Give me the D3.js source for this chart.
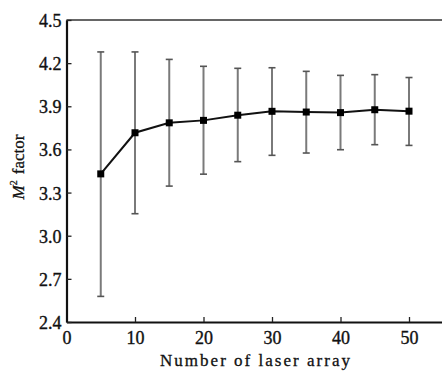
<!DOCTYPE html>
<html>
<head>
<meta charset="utf-8">
<script src="https://cdn.jsdelivr.net/npm/d3@7"></script>
<style>
  body { margin: 0; background: #fff; }
  svg text { font-family: "Liberation Serif", "DejaVu Serif", "Times New Roman", Times, serif; }
</style>
</head>
<body>
<div id="chart"></div>
<script>
(function(d3) {
  'use strict';

  var width = 442;
  var height = 374;

  // data
  var arraySizes = [5, 10, 15, 20, 25, 30, 35, 40, 45, 50];
  var m2Mean  = [3.43, 3.716, 3.785, 3.802, 3.838, 3.865, 3.860, 3.856, 3.876, 3.866];
  var m2Upper = [4.278, 4.278, 4.226, 4.178, 4.164, 4.168, 4.143, 4.115, 4.12, 4.10];
  var m2Lower = [2.578, 3.153, 3.345, 3.428, 3.515, 3.559, 3.575, 3.598, 3.633, 3.628];
  var xTicks = [0, 10, 20, 30, 40, 50];
  var yTicks = [2.4, 2.7, 3.0, 3.3, 3.6, 3.9, 4.2, 4.5];

  var serif = '"Liberation Serif", "DejaVu Serif", "Times New Roman", Times, serif';
  var left = 66.5, top = 20, bottom = 322;

  var x = d3.scaleLinear().domain([0, 55]).range([left, left + 55 * 6.85]);
  var y = d3.scaleLinear().domain([2.4, 4.5]).range([bottom, top]);

  var svg = d3.select('#chart')
    .append('svg')
    .attr('width', width)
    .attr('height', height)
    .attr('font-family', serif);

  var points = arraySizes.map(function(n, i) {
    return { n: n, mean: m2Mean[i], hi: m2Upper[i], lo: m2Lower[i] };
  });

  // top frame line
  svg.append('line')
    .attr('x1', left).attr('x2', x(55))
    .attr('y1', y(4.5)).attr('y2', y(4.5))
    .attr('stroke', '#333').attr('stroke-width', 1.6);

  // error bars
  var bars = svg.append('g').attr('class', 'errorbars');
  bars.selectAll('line.stem')
    .data(points).enter()
    .append('line').attr('class', 'stem')
    .attr('x1', function(d){ return x(d.n); })
    .attr('x2', function(d){ return x(d.n); })
    .attr('y1', function(d){ return y(d.hi); })
    .attr('y2', function(d){ return y(d.lo); })
    .attr('stroke', '#7a7a7a').attr('stroke-width', 2);
  ['hi', 'lo'].forEach(function(k) {
    bars.selectAll('line.cap-' + k)
      .data(points).enter()
      .append('line').attr('class', 'cap-' + k)
      .attr('x1', function(d){ return x(d.n) - 3.5; })
      .attr('x2', function(d){ return x(d.n) + 3.5; })
      .attr('y1', function(d){ return y(d[k]); })
      .attr('y2', function(d){ return y(d[k]); })
      .attr('stroke', '#555').attr('stroke-width', 1.6);
  });

  // mean line + markers
  var line = d3.line()
    .x(function(d){ return x(d.n); })
    .y(function(d){ return y(d.mean); });

  svg.append('path')
    .datum(points)
    .attr('d', line)
    .attr('fill', 'none')
    .attr('stroke', '#111')
    .attr('stroke-width', 2);

  svg.selectAll('rect.marker')
    .data(points).enter()
    .append('rect').attr('class', 'marker')
    .attr('x', function(d){ return x(d.n) - 3.5; })
    .attr('y', function(d){ return y(d.mean) - 3.5; })
    .attr('width', 7).attr('height', 7)
    .attr('fill', '#000');

  // axes
  var xAxis = d3.axisBottom(x)
    .tickValues(xTicks)
    .tickSizeInner(-5)
    .tickSizeOuter(0)
    .tickPadding(9)
    .tickFormat(d3.format('d'));

  var yAxis = d3.axisLeft(y)
    .tickValues(yTicks)
    .tickSizeInner(-5)
    .tickSizeOuter(0)
    .tickPadding(5)
    .tickFormat(d3.format('.1f'));

  var gx = svg.append('g')
    .attr('transform', 'translate(0,' + bottom + ')')
    .call(xAxis);
  var gy = svg.append('g')
    .attr('transform', 'translate(' + left + ',0)')
    .call(yAxis);

  [gx, gy].forEach(function(g) {
    g.attr('font-family', serif).attr('font-size', 18);
    g.select('.domain').attr('stroke', '#111').attr('stroke-width', 2.2);
    g.selectAll('.tick line').attr('stroke', '#222').attr('stroke-width', 1.3);
    g.selectAll('.tick text')
      .attr('fill', '#111')
      .attr('stroke', '#111')
      .attr('stroke-width', 0.35);
  });
  gy.selectAll('.tick text').attr('dy', '0.36em');

  // axis titles
  svg.append('text')
    .attr('x', 255).attr('y', 366)
    .attr('text-anchor', 'middle')
    .attr('textLength', 190)
    .attr('lengthAdjust', 'spacing')
    .attr('font-size', 17)
    .attr('fill', '#111')
    .attr('stroke', '#111')
    .attr('stroke-width', 0.3)
    .text('Number of laser array');

  var yl = svg.append('text')
    .attr('transform', 'translate(24,167) rotate(-90)')
    .attr('text-anchor', 'middle')
    .attr('font-size', 17)
    .attr('fill', '#111')
    .attr('stroke', '#111')
    .attr('stroke-width', 0.3);
  yl.append('tspan').attr('font-style', 'italic').text('M');
  yl.append('tspan').attr('dy', -7).attr('font-size', 10).text('2');
  yl.append('tspan').attr('dy', 7).attr('dx', 6).text('factor');

})(window.d3);
</script>
</body>
</html>
